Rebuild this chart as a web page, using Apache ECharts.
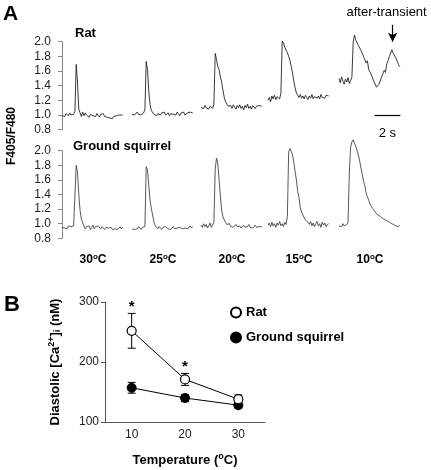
<!DOCTYPE html>
<html><head><meta charset="utf-8">
<script src="https://cdn.jsdelivr.net/npm/echarts@6/dist/echarts.min.js"></script>
<style>html,body{margin:0;padding:0;background:#fff}#c{width:431px;height:470px}</style>
</head><body><div id="c"></div>
<script>
// ---------- Panel A data (F405/F480 ratio, sampled every 0.1 s) ----------
const dt = 0.1;
const tempLabels = ['30', '25', '20', '15', '10'];
const ratTrace30 = [0.99,1.01,0.98,1.02,1.00,0.99,1.03,1.00,1.02,1.01,
 1.05,1.69,1.45,1.08,1.03,0.98,1.04,0.99,1.03,1.00,
 1.02,0.97,1.01,1.03,0.99,1.01,0.98,1.02,1.00,0.97,
 1.01,0.99,1.02,0.98,1.00,0.97,0.99,0.96,0.98,0.95,
 0.98,0.97,0.99,0.98,1.00,0.99,1.00,1.00];
const ratTrace25 = [1.01,1.03,1.00,1.02,1.04,1.01,1.03,1.00,1.02,1.03,
 1.08,1.73,1.62,1.32,1.14,1.06,1.04,1.01,1.03,0.99,
 1.02,1.04,1.00,1.03,1.01,1.04,1.00,1.02,1.03,0.99,
 1.02,1.04,1.01,1.03,1.00,1.04,1.02,0.99,1.03,1.01,
 1.04,1.00,1.02,1.03,1.01,1.04,1.02,1.03];
const ratTrace20 = [1.10,1.12,1.09,1.13,1.10,1.11,1.08,1.12,1.10,1.09,
 1.15,1.84,1.76,1.66,1.62,1.52,1.45,1.34,1.24,1.18,
 1.15,1.12,1.10,1.13,1.09,1.14,1.11,1.08,1.13,1.10,
 1.14,1.09,1.12,1.07,1.13,1.10,1.15,1.09,1.12,1.08,
 1.13,1.11,1.09,1.12,1.10,1.13,1.11,1.12];
const ratTrace15 = [1.20,1.24,1.18,1.26,1.22,1.27,1.21,1.25,1.23,1.22,
 1.30,2.01,1.98,1.92,1.90,1.85,1.80,1.74,1.66,1.57,
 1.46,1.37,1.30,1.27,1.24,1.28,1.23,1.26,1.22,1.27,
 1.24,1.21,1.26,1.23,1.28,1.22,1.25,1.27,1.23,1.26,
 1.22,1.28,1.24,1.26,1.23,1.27,1.25,1.26];
const ratTrace10 = [1.50,1.44,1.52,1.46,1.42,1.49,1.45,1.51,1.43,1.47,
 1.52,2.00,2.09,2.02,2.04,1.95,1.97,1.88,1.90,1.80,
 1.78,1.71,1.74,1.62,1.64,1.55,1.57,1.46,1.48,1.38,
 1.37,1.42,1.40,1.52,1.50,1.61,1.58,1.70,1.74,1.80,
 1.78,1.89,1.84,1.86,1.78,1.76,1.69,1.66];
const sqTrace30 = [0.95,0.97,0.94,0.96,0.93,0.97,0.95,0.96,0.94,0.97,
 0.98,1.80,1.70,1.40,1.18,1.06,1.01,0.97,0.93,0.96,
 0.94,0.97,0.92,0.95,0.98,0.93,0.96,0.94,0.97,0.95,
 0.93,0.96,0.94,0.92,0.95,0.97,0.94,0.93,0.95,0.92,
 0.94,0.93,0.95,0.92,0.94,0.96,0.93,0.95];
const sqTrace25 = [0.93,0.95,0.92,0.94,0.93,0.96,0.94,0.92,0.95,0.94,
 0.96,1.78,1.74,1.52,1.32,1.20,1.12,1.02,0.97,0.95,
 0.93,0.96,0.94,0.92,0.95,0.93,0.96,0.94,0.93,0.95,
 0.92,0.94,0.96,0.93,0.95,0.94,0.92,0.95,0.97,0.93,
 0.95,0.94,0.96,0.93,0.95,0.97,0.94,0.96];
const sqTrace20 = [0.98,0.95,1.00,0.96,0.99,0.94,0.97,1.01,0.95,0.98,
 1.02,1.75,1.90,1.82,1.60,1.38,1.18,1.10,1.05,1.02,
 0.99,0.97,1.00,0.96,0.98,0.95,0.97,0.99,0.96,0.95,
 0.97,0.94,0.96,0.98,0.95,0.97,0.96,0.99,0.95,0.97,
 0.94,0.96,0.98,0.95,0.97,0.96,0.94,0.96];
const sqTrace15 = [0.98,1.01,0.96,1.02,0.97,1.00,0.95,1.01,0.98,1.03,
 0.97,1.00,0.96,1.02,0.99,1.10,1.98,2.03,1.99,1.94,
 1.84,1.71,1.60,1.44,1.36,1.22,1.16,1.12,1.10,1.05,
 1.04,1.02,0.99,1.03,0.97,1.01,0.96,1.00,1.03,0.97,
 1.00,0.95,1.02,0.98,1.01,0.96,0.99,1.00];
const sqTrace10 = [0.97,0.99,0.96,1.00,0.97,0.98,0.99,1.02,1.70,2.05,
 2.12,2.15,2.10,2.06,2.00,1.94,1.86,1.76,1.68,1.58,
 1.52,1.42,1.37,1.32,1.27,1.24,1.21,1.19,1.16,1.14,
 1.12,1.13,1.10,1.09,1.07,1.08,1.05,1.06,1.03,1.04,
 1.01,1.02,0.99,1.00,0.97,0.99,0.96,0.98];
const ratTraces = [ratTrace30, ratTrace25, ratTrace20, ratTrace15, ratTrace10];
const squirrelTraces = [sqTrace30, sqTrace25, sqTrace20, sqTrace15, sqTrace10];
const scaleBarSeconds = 2;
const afterTransientTime = 4.15;

// ---------- Panel B data (diastolic [Ca2+]i, nM) ----------
const bTemps = ['10', '20', '30'];
const ratMean = [252, 171, 138];
const ratErr = [29, 10, 7];
const sqMean = [157, 140, 128];
const sqErr = [9, 6, 5];
const ratSig = ['*', '*', ''];

// ---------- layout ----------
const FONT = '"Liberation Sans", Arial, sans-serif';
const traceLefts = [62, 132, 201, 268, 339];
const traceW = 62;
const rows = [
  {top: 41.7, height: 88, traces: ratTraces, color: '#222'},
  {top: 150.7, height: 87.6, traces: squirrelTraces, color: '#444'}
];
const grids = [], xAxes = [], yAxes = [], series = [];
const supRich = {
  s: {fontSize: 8, fontWeight: 'bold', fontFamily: FONT, color: '#000', padding: [0, 0, 7, 0]}
};

rows.forEach((row, r) => {
  row.traces.forEach((tr, i) => {
    const gi = grids.length;
    const withArrow = (r === 0 && i === 4);
    const pxPerUnit = row.height / 1.2;
    const yMax = withArrow ? 2.4 : 2.0;
    const extra = (yMax - 2.0) * pxPerUnit;
    grids.push({left: traceLefts[i], top: row.top - extra, width: traceW, height: row.height + extra});
    const isBottom = r === 1;
    xAxes.push({
      type: 'value', gridIndex: gi, min: 0, max: 4.8, show: true,
      axisLine: {show: false}, axisTick: {show: false}, axisLabel: {show: false}, splitLine: {show: false},
      name: isBottom ? tempLabels[i] + '{s|o}C' : '',
      nameLocation: 'middle', nameGap: 14,
      nameTextStyle: {fontFamily: FONT, fontWeight: 'bold', fontSize: 12, color: '#000', rich: supRich}
    });
    yAxes.push({
      type: 'value', gridIndex: gi, min: 0.8, max: yMax, interval: 0.2,
      show: i === 0, offset: 7,
      axisLine: {show: true, lineStyle: {color: '#888', width: 1}},
      axisTick: {show: true, length: 4, lineStyle: {color: '#888'}},
      axisLabel: {fontFamily: FONT, fontSize: 12, color: '#222', margin: 4,
        formatter: v => v.toFixed(1)},
      splitLine: {show: false}
    });
    const s = {
      type: 'line', xAxisIndex: gi, yAxisIndex: gi,
      data: tr.map((v, k) => [+(k * dt).toFixed(2), v]),
      showSymbol: false, symbol: 'none', clip: false, silent: true, animation: false,
      lineStyle: {color: row.color, width: 0.9}
    };
    if (withArrow) {
      s.markLine = {
        silent: true, animation: false, symbol: ['none', 'none'],
        lineStyle: {color: '#000', width: 1.2, type: 'solid'},
        data: [
          [{coord: [2.75, 1.0], label: {show: true, formatter: scaleBarSeconds + ' s', position: 'insideMiddleBottom', distance: 12,
              fontFamily: FONT, fontSize: 13, color: '#000'}},
           {coord: [2.75 + scaleBarSeconds, 1.0]}],
          [{coord: [afterTransientTime, 2.23], label: {show: true, formatter: 'after-transient', position: 'start', distance: 6,
              fontFamily: FONT, fontSize: 13, color: '#000', padding: [0, 12, 0, 0]}},
           {coord: [afterTransientTime, 2.0], symbol: 'arrow', symbolSize: [7, 9]}]
        ]
      };
    }
    series.push(s);
  });
});

// Panel B grid
const gB = grids.length;
grids.push({left: 105, top: 302, width: 160, height: 120});
xAxes.push({
  type: 'category', gridIndex: gB, data: bTemps, boundaryGap: true,
  axisLine: {lineStyle: {color: '#555', width: 1}},
  axisTick: {alignWithLabel: true, inside: true, length: 4, lineStyle: {color: '#555'}},
  axisLabel: {fontFamily: FONT, fontSize: 12, color: '#222', margin: 7},
  splitLine: {show: false},
  name: 'Temperature ({s|o}C)', nameLocation: 'middle', nameGap: 30,
  nameTextStyle: {fontFamily: FONT, fontWeight: 'bold', fontSize: 13, color: '#000',
    rich: {s: {fontSize: 9, fontWeight: 'bold', fontFamily: FONT, color: '#000', padding: [0, 0, 7, 0]}}}
});
yAxes.push({
  type: 'value', gridIndex: gB, min: 100, max: 300, interval: 100,
  axisLine: {show: true, lineStyle: {color: '#555', width: 1}},
  axisTick: {show: true, length: 4, lineStyle: {color: '#555'}},
  axisLabel: {fontFamily: FONT, fontSize: 12, color: '#222', margin: 6},
  splitLine: {show: false},
  name: 'Diastolic [Ca{sup|2+}]{sub|i} (nM)', nameLocation: 'middle', nameGap: 42,
  nameTextStyle: {fontFamily: FONT, fontWeight: 'bold', fontSize: 13, color: '#000',
    rich: {
      sup: {fontSize: 9, fontWeight: 'bold', fontFamily: FONT, color: '#000', padding: [0, 0, 7, 0]},
      sub: {fontSize: 9, fontWeight: 'bold', fontFamily: FONT, color: '#000', padding: [6, 0, 0, 0]}
    }}
});

function errRender(sig) {
  return function (params, api) {
    const x = api.value(0), m = api.value(1), e = api.value(2);
    const top = api.coord([x, m + e]), bot = api.coord([x, m - e]);
    const hw = 4;
    const st = {stroke: '#000', lineWidth: 1};
    const ch = [
      {type: 'line', shape: {x1: top[0], y1: top[1], x2: bot[0], y2: bot[1]}, style: st},
      {type: 'line', shape: {x1: top[0] - hw, y1: top[1], x2: top[0] + hw, y2: top[1]}, style: st},
      {type: 'line', shape: {x1: bot[0] - hw, y1: bot[1], x2: bot[0] + hw, y2: bot[1]}, style: st}
    ];
    const lab = sig ? sig[params.dataIndex] : '';
    if (lab) {
      ch.push({type: 'text', x: top[0], y: top[1] - 7,
        style: {text: lab, align: 'center', verticalAlign: 'middle', font: 'bold 15px ' + FONT, fill: '#000'}});
    }
    return {type: 'group', children: ch};
  };
}

series.push({
  type: 'custom', name: 'ratErr', xAxisIndex: gB, yAxisIndex: gB, z: 2, silent: true, animation: false,
  data: ratMean.map((m, i) => [i, m, ratErr[i]]), renderItem: errRender(ratSig)
});
series.push({
  type: 'custom', name: 'sqErr', xAxisIndex: gB, yAxisIndex: gB, z: 2, silent: true, animation: false,
  data: sqMean.map((m, i) => [i, m, sqErr[i]]), renderItem: errRender(null)
});
series.push({
  type: 'line', name: 'Ground squirrel', xAxisIndex: gB, yAxisIndex: gB, z: 5, animation: false,
  data: sqMean, symbol: 'circle', symbolSize: 9, showSymbol: true,
  itemStyle: {color: '#000', borderColor: '#000', borderWidth: 1},
  lineStyle: {color: '#000', width: 1}
});
series.push({
  type: 'line', name: 'Rat', xAxisIndex: gB, yAxisIndex: gB, z: 6, animation: false,
  data: ratMean, symbol: 'circle', symbolSize: 9, showSymbol: true,
  itemStyle: {color: '#fff', borderColor: '#000', borderWidth: 1.2},
  lineStyle: {color: '#000', width: 1}
});

const chart = echarts.init(document.getElementById('c'), null, {renderer: 'canvas'});
chart.setOption({
  backgroundColor: '#fff',
  animation: false,
  grid: grids, xAxis: xAxes, yAxis: yAxes, series: series,
  legend: {
    data: ['Rat', 'Ground squirrel'], orient: 'vertical', left: 225, top: 301,
    icon: 'circle', itemWidth: 10, itemHeight: 10, itemGap: 12, selectedMode: false,
    textStyle: {fontFamily: FONT, fontWeight: 'bold', fontSize: 13, color: '#000'}
  },
  graphic: [
    {type: 'text', x: 3, y: 14.5, style: {text: 'A', font: 'bold 21px ' + FONT, fill: '#000', verticalAlign: 'middle'}},
    {type: 'text', x: 4, y: 305, style: {text: 'B', font: 'bold 22px ' + FONT, fill: '#000', verticalAlign: 'middle'}},
    {type: 'text', x: 75, y: 33, style: {text: 'Rat', font: 'bold 13px ' + FONT, fill: '#000', verticalAlign: 'middle'}},
    {type: 'text', x: 73, y: 146, style: {text: 'Ground squirrel', font: 'bold 13px ' + FONT, fill: '#000', verticalAlign: 'middle'}},
    {type: 'text', x: 12, y: 136, rotation: Math.PI / 2,
      style: {text: 'F405/F480', font: 'bold 12px ' + FONT, fill: '#000', align: 'center', verticalAlign: 'middle'}}
  ]
});
</script>
</body></html>
